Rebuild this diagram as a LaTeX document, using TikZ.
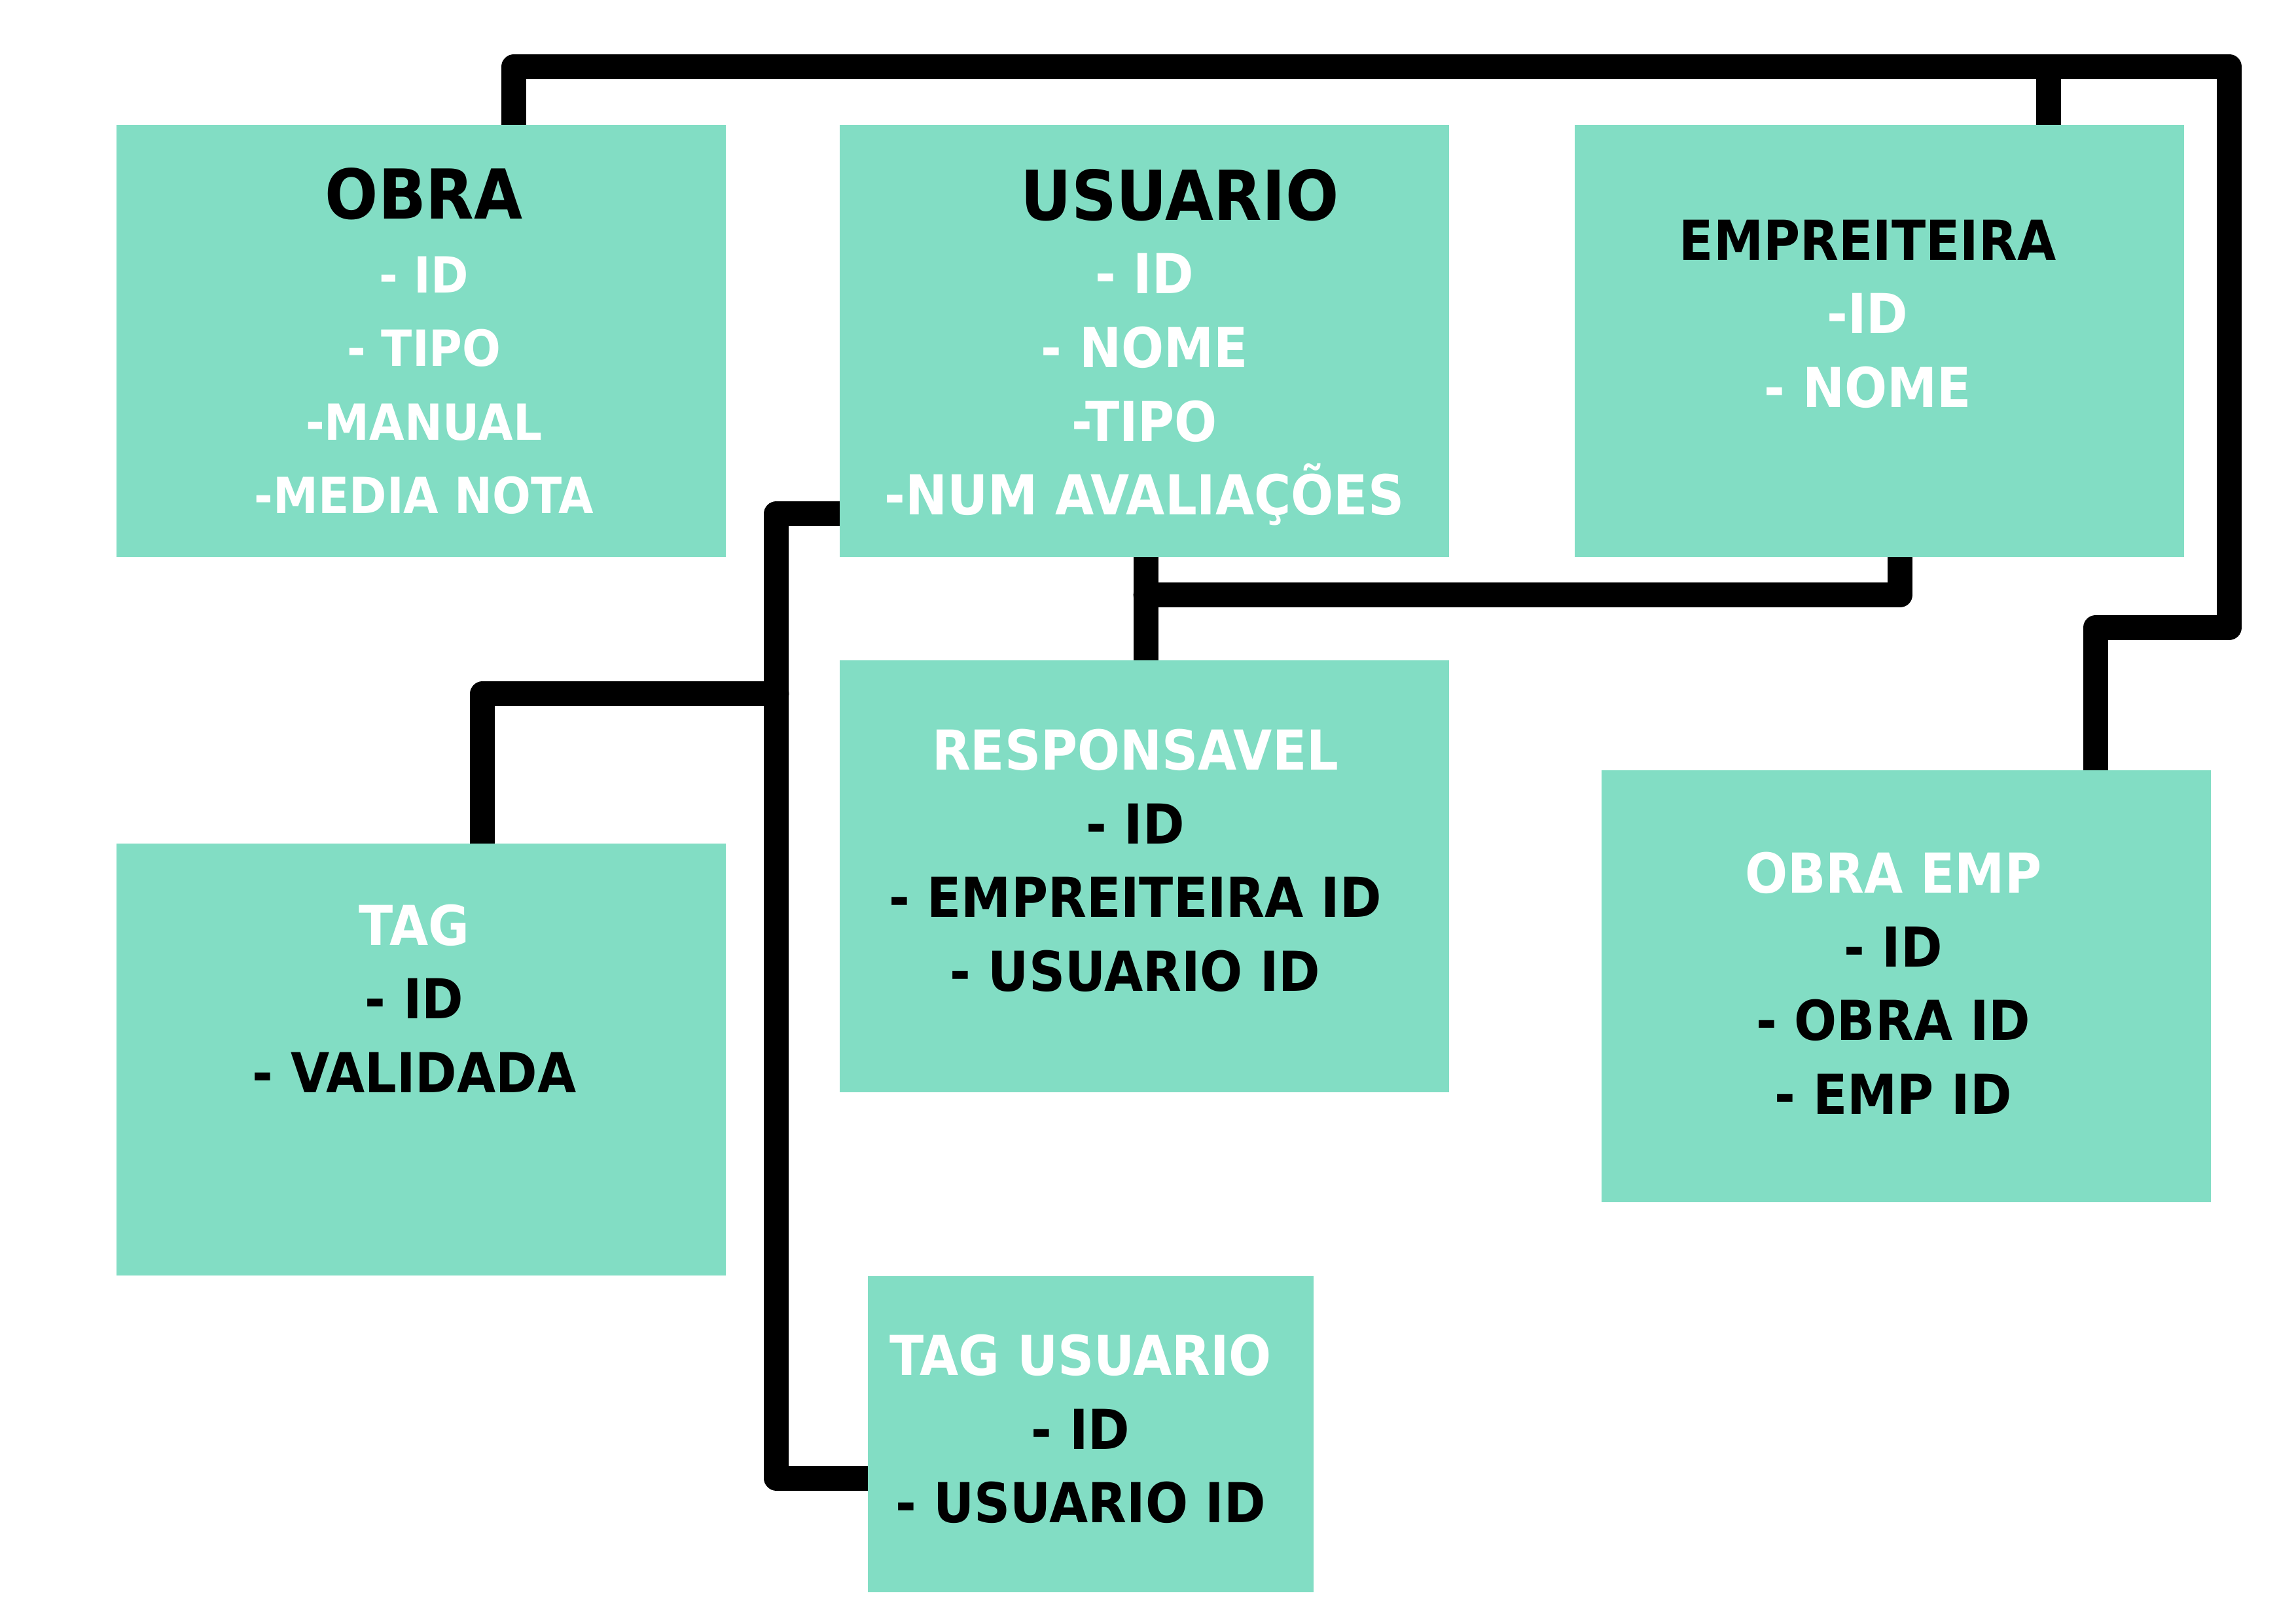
\documentclass[tikz,border=0pt]{standalone}
\usepackage{fontspec}
\setmainfont{DejaVu Sans}[FakeStretch=0.91]
\usepackage{xcolor}
\usetikzlibrary{positioning, calc, backgrounds}
\definecolor{boxgreen}{RGB}{130,221,196}

\begin{document}
\begin{tikzpicture}[
    x=1pt,y=-1pt,
    entity/.style={fill=boxgreen, inner sep=0pt, minimum width=416pt, minimum height=295pt},
    fields/.style={align=center, inner sep=0pt, font=\bfseries\fontsize{37.6}{50.3}\selectfont},
    head/.style={font=\fontsize{47}{50.3}\selectfont},
    link/.style={line width=17pt, line cap=round, line join=round}
]
    \useasboundingbox (0,0) rectangle (1568,1108.5);

    % --- Tables ---
    \node[entity] (obra) at (287.7, 232.7) {};
    \node[entity] (usuario) at (781.4, 232.7) {};
    \node[entity] (emp) at (1283.5, 232.7) {};
    \node[entity] (tag) at (287.7, 723.8) {};
    \node[entity] (resp) at (781.4, 598.4) {};
    \node[entity] (obraemp) at (1301.8, 673.6) {};
    \node[entity, minimum width=304.5pt, minimum height=215.8pt] (tagusr) at (744.9, 979.5) {};

    % --- Texts ---
    \node[fields, text=white, font=\bfseries\fontsize{34}{50.3}\selectfont] (obratxt) at (289.5, 233.0)
        {{\fontsize{47}{50.3}\selectfont\color{black}OBRA}\\- ID\\- TIPO\\-MANUAL\\-MEDIA NOTA};
    \node[fields, text=white] (usrtxt) at (781.6, 237.2)
        {{\fontsize{47}{50.3}\selectfont\color{black}\hspace*{48pt}USUARIO}\\- ID\\- NOME\\-TIPO\\-NUM AVALIAÇÕES};
    \node[fields, text=white] (emptxt) at (1275.5, 214.5)
        {{\color{black}EMPREITEIRA}\\-ID\\- NOME};
    \node[fields] (tagtxt) at (283, 681.9)
        {{\color{white}TAG}\\- ID\\- VALIDADA};
    \node[fields] (resptxt) at (775.3, 587.7)
        {{\color{white}RESPONSAVEL}\\- ID\\- EMPREITEIRA ID\\- USUARIO ID};
    \node[fields] (oetxt) at (1293, 671.4)
        {{\color{white}OBRA EMP}\\- ID\\- OBRA ID\\- EMP ID};
    \node[fields] (tutxt) at (738, 976)
        {{\color{white}TAG USUARIO}\\- ID\\- USUARIO ID};

    % --- Bend points ---
    \coordinate (c1) at (351, 45.6);
    \coordinate (c2) at (1522.5, 45.6);
    \coordinate (c3) at (1522.5, 428.5);
    \coordinate (c4) at (1431.3, 428.5);
    \coordinate (c5) at (1399, 45.6);
    \coordinate (c6) at (782.5, 406.5);
    \coordinate (c7) at (1297.5, 406.5);
    \coordinate (c8) at (530.3, 350.8);
    \coordinate (c9) at (530.3, 1009.5);
    \coordinate (c10) at (530.3, 474);
    \coordinate (c11) at (329.5, 474);

    % --- Connectors ---
    \begin{pgfonlayer}{background}
        \fill[white] (0,0) rectangle (1568,1108.5);
        \draw[link] (c1 |- obra.north) -- (c1) -- (c2) -- (c3) -- (c4) -- (c4 |- obraemp.north);
        \draw[link] (c5) -- (c5 |- emp.north);
        \draw[link] (c6 |- usuario.south) -- (c6 |- resp.north);
        \draw[link] (c6) -- (c7) -- (c7 |- emp.south);
        \draw[link] (usuario.west |- c8) -- (c8) -- (c9) -- (c9 -| tagusr.west);
        \draw[link] (c10) -- (c11) -- (c11 |- tag.north);
    \end{pgfonlayer}

\end{tikzpicture}
\end{document}
